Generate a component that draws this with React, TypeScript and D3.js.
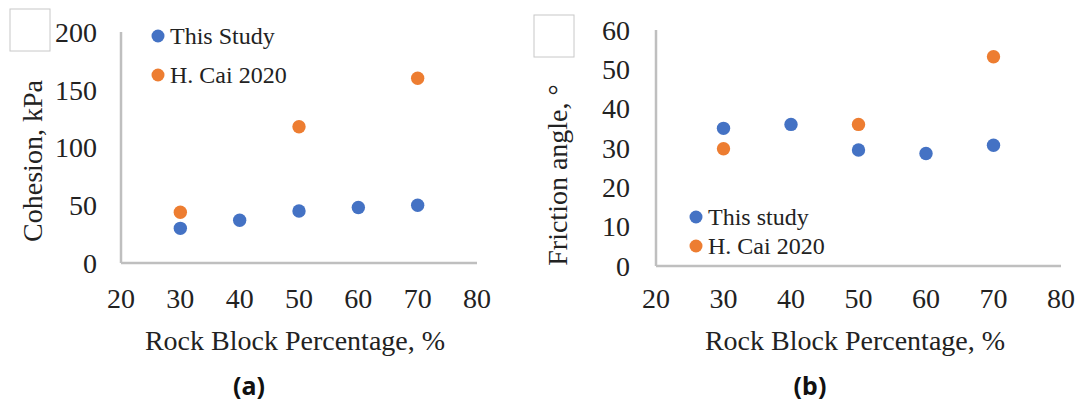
import React from 'react';
import * as d3 from 'd3';

// tick values
const xTicks = [20, 30, 40, 50, 60, 70, 80];
const cohesionTicks = [0, 50, 100, 150, 200];
const frictionTicks = [0, 10, 20, 30, 40, 50, 60];

// rock block percentage, %
const studyRbp = [30, 40, 50, 60, 70];
const caiRbp = [30, 50, 70];

// cohesion, kPa
const studyCohesion = [30, 37, 45, 48, 50];
const caiCohesion = [44, 118, 160];

// friction angle, deg
const studyFriction = [35, 36, 29.5, 28.6, 30.7];
const caiFriction = [29.8, 36, 53.2];

const BLUE = '#4472c4';
const ORANGE = '#ed7d31';
const AXIS = '#bfbfbf';
const FONT = '"Liberation Serif", "Times New Roman", serif';

type PanelProps = {
  x0: number; x1: number; y0: number; y1: number;
  yTicks: number[];
  yTickRight: number;
  study: number[]; cai: number[];
  studyLabel: string;
  yTitle: string; yTitleX: number; yTitleY: number;
  xTitleX: number;
  legendX: number; legendY: number[];
  box: [number, number];
  caption: string; captionX: number;
};

function Panel(p: PanelProps) {
  const x = d3.scaleLinear().domain([20, 80]).range([p.x0, p.x1]);
  const yMax = p.yTicks[p.yTicks.length - 1];
  const y = d3.scaleLinear().domain([0, yMax]).range([p.y0, p.y1]);
  const r = 6.7;
  return (
    <g fontFamily={FONT} fill="#222">
      <rect x={p.box[0]} y={p.box[1]} width={40} height={42} fill="none" stroke="#c8c8c8" strokeWidth={1} />
      {/* axes */}
      <line x1={x(20)} x2={x(20)} y1={y(0)} y2={y(yMax)} stroke={AXIS} strokeWidth={2.5} />
      <line x1={x(20)} x2={x(80)} y1={y(0)} y2={y(0)} stroke={AXIS} strokeWidth={2.5} />
      {p.yTicks.map(t => (
        <text key={'y' + t} x={p.yTickRight} y={y(t)} dy="0.35em" textAnchor="end" fontSize={28}>{t}</text>
      ))}
      {xTicks.map(t => (
        <text key={'x' + t} x={x(t)} y={308} textAnchor="middle" fontSize={28}>{t}</text>
      ))}
      <text x={p.xTitleX} y={350} textAnchor="middle" fontSize={28}>Rock Block Percentage, %</text>
      <text transform={`translate(${p.yTitleX},${p.yTitleY}) rotate(-90)`} textAnchor="middle" fontSize={28}>{p.yTitle}</text>
      {/* points */}
      {caiRbp.map((v, i) => (
        <circle key={'c' + i} cx={x(v)} cy={y(p.cai[i])} r={r} fill={ORANGE} />
      ))}
      {studyRbp.map((v, i) => (
        <circle key={'s' + i} cx={x(v)} cy={y(p.study[i])} r={r} fill={BLUE} />
      ))}
      {/* legend */}
      <circle cx={p.legendX} cy={p.legendY[0]} r={6.5} fill={BLUE} />
      <circle cx={p.legendX} cy={p.legendY[1]} r={6.5} fill={ORANGE} />
      <text x={p.legendX + 12} y={p.legendY[0]} dy="0.33em" fontSize={24}>{p.studyLabel}</text>
      <text x={p.legendX + 12} y={p.legendY[1]} dy="0.33em" fontSize={24}>H. Cai 2020</text>
      <text x={p.captionX} y={395} textAnchor="middle" fontSize={25} fontWeight="bold"
        fontFamily='"Noto Sans", sans-serif' fill="#111">{p.caption}</text>
    </g>
  );
}

export default function App() {
  return (
    <svg width={1080} height={405} style={{ position: 'absolute', left: 0, top: 0, background: '#fff' }}>
      <rect width={1080} height={405} fill="#fff" />
      <Panel
        x0={121} x1={477} y0={263} y1={32}
        yTicks={cohesionTicks} yTickRight={97}
        study={studyCohesion} cai={caiCohesion}
        studyLabel="This Study"
        yTitle="Cohesion, kPa" yTitleX={42} yTitleY={161}
        xTitleX={295}
        legendX={158} legendY={[36, 75]}
        box={[10, 9]}
        caption="(a)" captionX={249}
      />
      <Panel
        x0={656} x1={1061} y0={266} y1={30}
        yTicks={frictionTicks} yTickRight={630}
        study={studyFriction} cai={caiFriction}
        studyLabel="This study"
        yTitle="Friction angle, °" yTitleX={567} yTitleY={175}
        xTitleX={855}
        legendX={696} legendY={[217, 246]}
        box={[534, 15]}
        caption="(b)" captionX={810}
      />
    </svg>
  );
}
